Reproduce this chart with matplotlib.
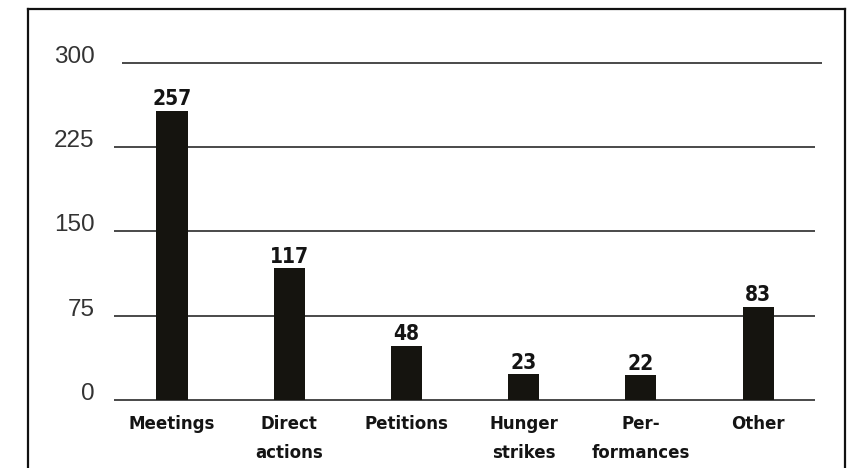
import matplotlib
matplotlib.use("Agg")
import matplotlib.pyplot as plt
from matplotlib.lines import Line2D

# protest forms and how often each was counted
categories = ["Meetings", "Direct\nactions", "Petitions", "Hunger\nstrikes", "Per-\nformances", "Other"]
counts = [257, 117, 48, 23, 22, 83]
yticks = [0, 75, 150, 225, 300]

W, H = 861, 468
fig = plt.figure(figsize=(W / 100, H / 100), dpi=100)
fig.patch.set_facecolor("white")

# axes box in pixels: x 114..815, y 400 (zero) .. 62.7 (300)
ax = fig.add_axes([114 / W, (H - 400) / H, (815 - 114) / W, (400 - 62.7) / H])
ax.set_xlim(-0.495, 5.486)
ax.set_ylim(0, 300)

x = list(range(len(categories)))
ax.bar(x, counts, width=0.265, color="#15140f", zorder=3)

# horizontal rules; the top one sits a little to the right
for t in yticks:
    if t == 300:
        ax.hlines(t, -0.427, 5.546, color="#3a3a3a", lw=1.3, clip_on=False, zorder=2)
    else:
        ax.hlines(t, -0.495, 5.486, color="#3a3a3a", lw=1.3, clip_on=False, zorder=2)

for xi, v in zip(x, counts):
    ax.annotate(str(v), (xi, v), xytext=(0, 4), textcoords="offset points",
                ha="center", va="baseline", fontsize=15, fontweight="bold",
                fontfamily="DejaVu Sans", fontstretch="condensed", color="#141414")

ax.set_yticks(yticks)
ax.set_yticklabels([str(t) for t in yticks], fontsize=17.5,
                   fontfamily="Liberation Sans", color="#333333")
for lab in ax.get_yticklabels():
    lab.set_va("baseline")
ax.tick_params(axis="y", length=0, pad=14)

ax.set_xticks(x)
ax.set_xticklabels(categories, fontsize=12, fontweight="bold",
                   fontfamily="DejaVu Sans", color="#141414", linespacing=1.85)
ax.tick_params(axis="x", length=0, pad=10.5)

for s in ax.spines.values():
    s.set_visible(False)

# open-bottomed frame around the figure
lc = "#111111"
fig.add_artist(Line2D([28 / W, 28 / W], [0, (H - 9) / H], color=lc, lw=1.6))
fig.add_artist(Line2D([28 / W, 845 / W], [(H - 9) / H, (H - 9) / H], color=lc, lw=1.6))
fig.add_artist(Line2D([845 / W, 845 / W], [0, (H - 9) / H], color=lc, lw=1.6))

fig.savefig("out.png", dpi=100)
